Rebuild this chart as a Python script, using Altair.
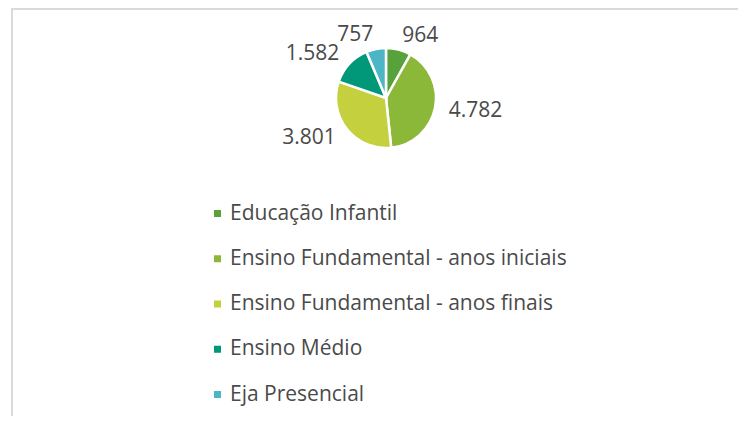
import altair as alt
import pandas as pd

categories = [
    "Educação Infantil",
    "Ensino Fundamental - anos iniciais",
    "Ensino Fundamental - anos finais",
    "Ensino Médio",
    "Eja Presencial",
]
values = [964, 4782, 3801, 1582, 757]
colors = ["#58A23C", "#8CB83A", "#C4D03E", "#009879", "#4DB6C6"]

df = pd.DataFrame({"cat": categories, "value": values, "ord": list(range(len(values)))})

FONT = "Open Sans"
TXT = "#4a4a4a"
CX, CY = 378, 90

base = alt.Chart(df).transform_window(
    cum="sum(value)", sort=[alt.SortField("ord")]
).transform_joinaggregate(
    total="sum(value)"
).transform_calculate(
    mid="(datum.cum - datum.value / 2) / datum.total * 360",
    label="replace(format(datum.value, ','), ',', '.')",
)

color = alt.Color(
    "cat:N",
    scale=alt.Scale(domain=categories, range=colors),
    sort=categories,
    legend=alt.Legend(
        title=None,
        orient="none",
        legendX=199,
        legendY=195,
        direction="vertical",
        symbolType="square",
        symbolSize=49,
        symbolStrokeWidth=0,
        labelFont=FONT,
        labelFontSize=21,
        labelColor=TXT,
        labelOffset=2,
        rowPadding=23.25,
        padding=0,
        labelLimit=500,
    ),
)

pie = base.mark_arc(outerRadius=50, stroke="white", strokeWidth=2.5).encode(
    theta=alt.Theta("value:Q", stack=True),
    order=alt.Order("ord:Q"),
    color=color,
    x=alt.value(CX),
    y=alt.value(CY),
)

right_lbl = base.transform_calculate(
    t="datum.mid < 180 ? datum.label : ''"
).mark_text(font=FONT, fontSize=21, color=TXT, align="left", baseline="middle").encode(
    theta=alt.Theta("value:Q", stack=True),
    order=alt.Order("ord:Q"),
    radius=alt.value(64),
    text="t:N",
    x=alt.value(CX),
    y=alt.value(CY),
)

left_lbl = base.transform_calculate(
    t="datum.mid >= 180 ? datum.label : ''"
).mark_text(font=FONT, fontSize=21, color=TXT, align="right", baseline="middle").encode(
    theta=alt.Theta("value:Q", stack=True),
    order=alt.Order("ord:Q"),
    radius=alt.value(64),
    text="t:N",
    x=alt.value(CX),
    y=alt.value(CY),
)

frame_top = alt.Chart(df).mark_rule(color="#d9d9d9", strokeWidth=1.5).encode(
    x=alt.value(3), x2=alt.value(730), y=alt.value(0.75)
)
frame_left = alt.Chart(df).mark_rule(color="#d9d9d9", strokeWidth=1.5).encode(
    x=alt.value(3.75), y=alt.value(0), y2=alt.value(408)
)

chart = alt.layer(frame_top, frame_left, pie, right_lbl, left_lbl).properties(
    width=730,
    height=408,
    autosize=alt.AutoSizeParams(type="none"),
    padding=0,
    background="white",
).configure_view(stroke=None)

chart.save("out.html", embed_options={"renderer": "svg", "actions": False})
